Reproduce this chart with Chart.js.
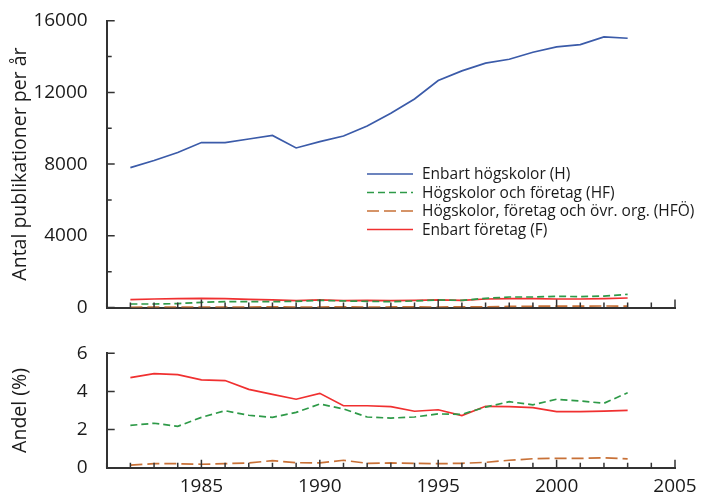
<!DOCTYPE html>
<html>
<head>
<meta charset="utf-8">
<script src="https://cdn.jsdelivr.net/npm/chart.js@4.4.1/dist/chart.umd.min.js"></script>
<style>
  body { margin: 0; background: #fff; }
  #wrap { position: relative; width: 701px; height: 495px; }
  #wrap canvas { position: absolute; left: 0; }
</style>
</head>
<body>
<div id="wrap">
  <canvas id="antal" width="701" height="320" style="top:0"></canvas>
  <canvas id="andel" width="701" height="175" style="top:320px"></canvas>
</div>
<script>
const years = [1982, 1983, 1984, 1985, 1986, 1987, 1988, 1989, 1990, 1991, 1992,
  1993, 1994, 1995, 1996, 1997, 1998, 1999, 2000, 2001, 2002, 2003];

// antal publikationer per år
const hAntal = [7800, 8200, 8650, 9200, 9200, 9400, 9600, 8900, 9250, 9570, 10130,
  10840, 11630, 12660, 13200, 13630, 13850, 14240, 14540, 14670, 15100, 15020];
const hfAntal = [195, 195, 215, 290, 325, 325, 325, 345, 400, 365, 345,
  325, 365, 420, 400, 510, 585, 585, 625, 605, 640, 735];
const hfoAntal = [15, 18, 20, 18, 20, 25, 37, 25, 25, 40, 25,
  30, 30, 28, 33, 40, 60, 70, 75, 78, 85, 75];
const fAntal = [435, 475, 490, 510, 490, 455, 420, 380, 420, 380, 400,
  380, 400, 420, 400, 475, 490, 490, 475, 475, 490, 530];

// andel (%)
const hfAndel = [2.22, 2.33, 2.17, 2.64, 2.99, 2.75, 2.64, 2.9, 3.34, 3.08, 2.66,
  2.6, 2.66, 2.82, 2.8, 3.18, 3.46, 3.3, 3.59, 3.5, 3.38, 3.93];
const hfoAndel = [0.14, 0.21, 0.21, 0.18, 0.21, 0.25, 0.37, 0.26, 0.25, 0.39, 0.23,
  0.25, 0.23, 0.21, 0.23, 0.28, 0.39, 0.47, 0.49, 0.49, 0.52, 0.46];
const fAndel = [4.72, 4.93, 4.88, 4.61, 4.57, 4.11, 3.85, 3.59, 3.9, 3.25, 3.25,
  3.2, 2.96, 3.04, 2.73, 3.22, 3.2, 3.15, 2.94, 2.94, 2.97, 3.01];

const labels = ['Enbart högskolor (H)', 'Högskolor och företag (HF)',
  'Högskolor, företag och övr. org. (HFÖ)', 'Enbart företag (F)'];

const FONT = "'Open Sans', sans-serif";
const INK = '#1a1a1a';
const AXIS = '#333';

const pts = (vals) => vals.map((v, i) => ({ x: years[i], y: v }));

const line = (label, vals, color, dash) => ({
  label: label,
  data: pts(vals),
  borderColor: color,
  backgroundColor: color,
  borderWidth: 1.7,
  borderDash: dash,
  pointRadius: 0,
  tension: 0,
  fill: false,
});

// tick marks pointing into the plot, major + minor
const innerTicks = {
  id: 'innerTicks',
  afterDraw(chart, args, opts) {
    const { ctx, scales } = chart;
    const base = scales.x.top;
    const edge = scales.y.right;
    ctx.save();
    ctx.strokeStyle = AXIS;
    ctx.lineWidth = 1.5;
    ctx.beginPath();
    scales.x.ticks.forEach((t) => {
      const px = scales.x.getPixelForValue(t.value);
      const len = t.value % 5 === 0 ? 8 : 5;
      ctx.moveTo(px, base);
      ctx.lineTo(px, base - len);
    });
    scales.y.ticks.forEach((t) => {
      const py = scales.y.getPixelForValue(t.value);
      const len = t.value % opts.major === 0 ? 8 : 5;
      ctx.moveTo(edge, py);
      ctx.lineTo(edge + len, py);
    });
    ctx.stroke();
    ctx.restore();
  },
};

// legend inside the top plot
const insideLegend = {
  id: 'insideLegend',
  afterDraw(chart, args, opts) {
    if (!opts.show) return;
    const ctx = chart.ctx;
    ctx.save();
    ctx.font = '15.5px ' + FONT;
    ctx.textBaseline = 'middle';
    ctx.fillStyle = INK;
    chart.data.datasets.forEach((ds, i) => {
      const y = opts.y + i * opts.row;
      ctx.strokeStyle = ds.borderColor;
      ctx.lineWidth = ds.borderWidth;
      ctx.setLineDash(ds.borderDash || []);
      ctx.beginPath();
      ctx.moveTo(opts.x, y);
      ctx.lineTo(opts.x + 46, y);
      ctx.stroke();
      ctx.fillText(ds.label, opts.x + 55, y + 1);
    });
    ctx.restore();
  },
};

const xScale = (showLabels, h) => ({
  type: 'linear',
  min: 1981,
  max: 2005,
  z: 1, // axis line drawn over the lines that sit near zero
  grid: { display: false },
  border: { display: true, color: AXIS, width: 2 },
  ticks: {
    display: showLabels,
    stepSize: 1,
    autoSkip: false,
    maxRotation: 0,
    padding: -1,
    color: INK,
    font: { family: FONT, size: 19 },
    callback: (v) => (v % 5 === 0 ? String(v) : ''),
  },
  afterFit: (s) => { s.height = h; },
});

const yScale = (max, step, major, title) => ({
  min: 0,
  max: max,
  grid: { display: false },
  border: { display: true, color: AXIS, width: 2 },
  ticks: {
    stepSize: step,
    padding: 11,
    color: INK,
    font: { family: FONT, size: 19 },
    callback: (v) => (v % major === 0 ? String(v) : ''),
  },
  title: {
    display: true,
    text: title,
    color: INK,
    font: { family: FONT, size: 19.5 },
    padding: { top: 9, bottom: 0 },
  },
  afterFit: (s) => {
    s.width = 106.7;
    // the plot edges are set by layout padding, not by label overhang
    s.paddingTop = 0;
    s.paddingBottom = 0;
  },
});

new Chart(document.getElementById('antal'), {
  type: 'line',
  data: {
    datasets: [
      line(labels[0], hAntal, '#3b5ba9', []),
      line(labels[1], hfAntal, '#2e9a48', [7, 4]),
      line(labels[2], hfoAntal, '#c87137', [12, 5]),
      line(labels[3], fAntal, '#f03030', []),
    ],
  },
  options: {
    responsive: false,
    animation: false,
    devicePixelRatio: 1,
    layout: { padding: { top: 20.7, right: 26, bottom: 0, left: 0 } },
    plugins: {
      legend: { display: false },
      tooltip: { enabled: false },
      innerTicks: { major: 4000 },
      insideLegend: { show: true, x: 367, y: 174, row: 18.5 },
    },
    scales: {
      x: xScale(false, 12.5),
      y: yScale(16000, 2000, 4000, 'Antal publikationer per år'),
    },
  },
  plugins: [innerTicks, insideLegend],
});

new Chart(document.getElementById('andel'), {
  type: 'line',
  data: {
    datasets: [
      line(labels[1], hfAndel, '#2e9a48', [7, 4]),
      line(labels[2], hfoAndel, '#c87137', [12, 5]),
      line(labels[3], fAndel, '#f03030', []),
    ],
  },
  options: {
    responsive: false,
    animation: false,
    devicePixelRatio: 1,
    layout: { padding: { top: 33.3, right: 26, bottom: 0, left: 0 } },
    plugins: {
      legend: { display: false },
      tooltip: { enabled: false },
      innerTicks: { major: 2 },
      insideLegend: { show: false },
    },
    scales: {
      x: xScale(true, 27.3),
      y: yScale(6, 1, 2, 'Andel (%)'),
    },
  },
  plugins: [innerTicks, insideLegend],
});
</script>
</body>
</html>
